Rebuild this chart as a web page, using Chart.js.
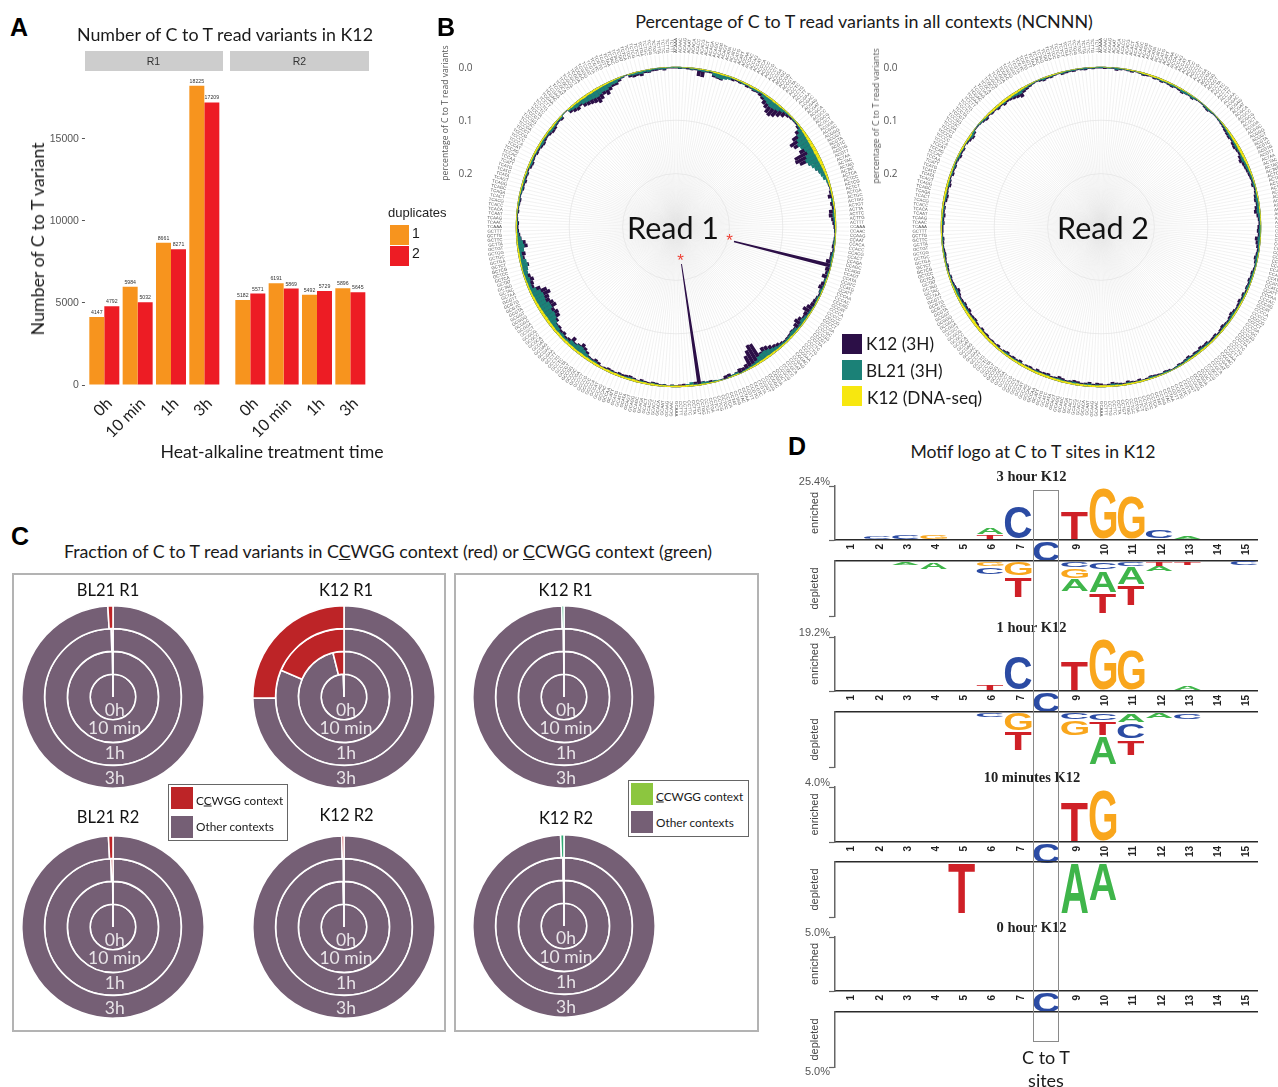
<!DOCTYPE html>
<html lang="en">

<head>
    <meta charset="UTF-8">
    <title>C to T read variants</title>
    <script src="https://cdn.jsdelivr.net/npm/chart.js"></script>
    <style>
        html, body { margin: 0; padding: 0; background: #fff; overflow: hidden; }
        #page { position: relative; width: 1278px; height: 1087px; overflow: hidden; font-family: Lato, sans-serif; color: #1a1a1a; }
        canvas { position: absolute; }
        .t { position: absolute; transform: translate(-50%, -50%); white-space: nowrap; z-index: 5; }
        .l { position: absolute; transform: translateY(-50%); white-space: nowrap; z-index: 5; }
        .panel { font: bold 25px "Liberation Sans", sans-serif; color: #000; }
        .box { position: absolute; box-sizing: border-box; z-index: 5; }
        .v { position: absolute; transform: translate(-50%, -50%) rotate(-90deg); white-space: nowrap; z-index: 5; }
        .serif { font: bold 14.5px "Liberation Serif", serif; color: #222; }
    </style>
</head>

<body>
    <div id="page">
        <div class="t panel" style="left:19px;top:27px">A</div>
        <div class="t panel" style="left:446px;top:27px">B</div>
        <div class="t panel" style="left:20px;top:536px">C</div>
        <div class="t panel" style="left:797px;top:446px">D</div>

        <!-- A -->
        <div class="t" style="left:225px;top:34px;font-size:17.85px">Number of C to T read variants in K12</div>
        <div class="box" style="left:85px;top:50.5px;width:138px;height:20.5px;background:#cdcdcd"></div>
        <div class="box" style="left:230px;top:50.5px;width:139px;height:20.5px;background:#cdcdcd"></div>
        <div class="t" style="left:153.5px;top:60.5px;font:10.5px 'Liberation Sans';color:#333">R1</div>
        <div class="t" style="left:299.5px;top:60.5px;font:10.5px 'Liberation Sans';color:#333">R2</div>
        <div class="v" style="left:37px;top:239px;font-size:17.8px">Number of C to T variant</div>
        <div class="t" style="left:272px;top:451px;font-size:17.7px">Heat-alkaline treatment time</div>
        <div class="l" style="left:388px;top:212px;font:13px 'Liberation Sans';color:#222">duplicates</div>
        <div class="box" style="left:389.5px;top:225px;width:19.5px;height:19.5px;background:#f7941e"></div>
        <div class="box" style="left:389.5px;top:246px;width:19.5px;height:19.5px;background:#ed1c24"></div>
        <div class="l" style="left:412px;top:233px;font:14px 'Liberation Sans'">1</div>
        <div class="l" style="left:412px;top:253px;font:14px 'Liberation Sans'">2</div>

        <!-- B -->
        <div class="t" style="left:864px;top:21px;font-size:17.9px">Percentage of C to T read variants in all contexts (NCNNN)</div>
        <div class="v" style="left:445px;top:113px;font:8.6px 'Open Sans';color:#555">percentage of C to T read variants</div>
        <div class="v" style="left:875.5px;top:116px;font:8.6px 'Open Sans';color:#555">percentage of C to T read variants</div>
        <div class="t" style="left:673px;top:227px;font-size:30.5px;color:#111">Read 1</div>
        <div class="t" style="left:1103px;top:227px;font-size:30.5px;color:#111">Read 2</div>
        <div class="t" style="left:729.5px;top:241px;font:17px 'Liberation Sans';color:#ee4035">*</div>
        <div class="t" style="left:680.5px;top:261px;font:17px 'Liberation Sans';color:#ee4035">*</div>
        <div class="box" style="left:842px;top:333.5px;width:20px;height:20px;background:#2c0f47"></div>
        <div class="box" style="left:842px;top:359.5px;width:20px;height:20px;background:#1b8177"></div>
        <div class="box" style="left:842px;top:385.5px;width:20px;height:20px;background:#f7e70f"></div>
        <div class="l" style="left:866px;top:343px;font-size:17.2px">K12 (3H)</div>
        <div class="l" style="left:866px;top:369.5px;font-size:17.2px">BL21 (3H)</div>
        <div class="l" style="left:867px;top:396.5px;font-size:17.2px">K12 (DNA-seq)</div>

        <!-- C -->
        <div class="t" style="left:388px;top:551px;font-size:17.8px">Fraction of C to T read variants in C<u>C</u>WGG context (red) or <u>C</u>CWGG context (green)</div>
        <div class="box" style="left:12px;top:572.5px;width:433.5px;height:459.5px;border:2px solid #b3b3b3"></div>
        <div class="box" style="left:453.5px;top:572.5px;width:305px;height:459.5px;border:2px solid #b3b3b3"></div>
        <div class="box" style="left:167.5px;top:784px;width:120.5px;height:57px;border:1.5px solid #666;background:#fff;z-index:6"></div>
        <div class="box" style="left:170.5px;top:787px;width:22px;height:22px;background:#bd2427;z-index:6"></div>
        <div class="box" style="left:170.5px;top:816px;width:22px;height:22px;background:#755f75;z-index:6"></div>
        <div class="l" style="left:196px;top:800px;font-size:11.8px;z-index:7">C<u>C</u>WGG context</div>
        <div class="l" style="left:196px;top:826px;font-size:11.8px;z-index:7">Other contexts</div>
        <div class="box" style="left:627.5px;top:779.5px;width:121px;height:57px;border:1.5px solid #666;background:#fff;z-index:6"></div>
        <div class="box" style="left:631px;top:782.5px;width:22px;height:22px;background:#8cc63f;z-index:6"></div>
        <div class="box" style="left:631px;top:811px;width:22px;height:22px;background:#755f75;z-index:6"></div>
        <div class="l" style="left:656px;top:796px;font-size:11.8px;z-index:7"><u>C</u>CWGG context</div>
        <div class="l" style="left:656px;top:822px;font-size:11.8px;z-index:7">Other contexts</div>

        <!-- D -->
        <div class="t" style="left:1033px;top:451px;font-size:17.6px">Motif logo at C to T sites in K12</div>
        <div class="t serif" style="left:1031.5px;top:476px">3 hour K12</div>
        <div class="t serif" style="left:1031.5px;top:627px">1 hour K12</div>
        <div class="t serif" style="left:1032px;top:777px">10 minutes K12</div>
        <div class="t serif" style="left:1031.5px;top:927px">0 hour K12</div>
        <div class="box" style="left:1033px;top:490px;width:25.5px;height:552px;border:1px solid #8a8a8a"></div>
        <div class="t" style="left:1046px;top:1057px;font-size:18px">C to T</div>
        <div class="t" style="left:1046px;top:1080px;font-size:18px">sites</div>
    </div>

    <script>
        // A - variant counts
        const treatmentTimes = ['0h', '10 min', '1h', '3h'];
        const r1Dup1 = [4147, 5984, 8661, 18225];
        const r1Dup2 = [4792, 5032, 8271, 17209];
        const r2Dup1 = [5182, 6191, 5492, 5896];
        const r2Dup2 = [5571, 5869, 5729, 5645];
        const countTicks = [0, 5000, 10000, 15000];

        // B - one value per NCNNN context, clockwise from the top
        // K12 and BL21 in thousandths, DNA-seq in half thousandths
        const bases = ['A', 'C', 'G', 'T'];
        const contexts = bases.flatMap(a => bases.flatMap(b => bases.flatMap(c => bases.map(d => a + 'C' + b + c + d))));
        const radialTicks = [0, 0.1, 0.2];

        const read1K12 = [
            3,4,3,4,5,4,14,15,5,5,11,12,13,8,6,7,5,6,5,7,6,8,7,9,12,18,22,28,30,26,20,14,
            8,6,5,5,8,16,28,38,34,22,30,44,46,40,26,16,18,14,8,6,5,5,4,6,10,5,8,6,12,13,9,7,
            5,4,3,4,5,6,4,7,7,12,188,10,8,12,6,9,11,7,5,7,9,10,14,18,12,10,15,18,14,10,11,9,
            8,7,9,12,14,18,22,24,18,40,42,34,26,12,9,10,6,4,8,7,3,1,4,6,5,7,230,8,5,4,6,5,
            4,5,3,5,4,6,7,5,6,8,5,7,9,8,7,8,6,7,8,6,5,9,11,8,9,14,18,22,16,13,20,12,
            10,14,12,15,14,20,28,30,26,34,32,28,30,36,32,22,12,14,17,13,10,12,16,8,11,14,12,20,17,10,8,6,
            5,6,4,3,5,4,5,6,4,5,7,6,8,6,7,5,8,9,7,6,8,7,9,10,8,7,9,11,10,7,6,8,
            2,2,10,14,16,12,18,20,22,24,28,24,18,22,16,12,12,8,4,2,7,9,8,10,6,7,5,5,4,6,3,3
        ];
        const read1BL21 = [
            2,3,3,2,4,3,4,5,4,3,8,10,11,9,7,4,3,4,5,4,5,6,5,4,8,10,13,15,14,12,8,5,
            4,3,4,3,5,10,16,22,26,24,20,18,24,28,26,22,18,14,12,10,6,4,3,4,3,5,4,3,5,6,5,4,
            3,3,2,3,4,3,2,4,5,4,3,2,4,3,5,3,4,6,3,5,4,3,4,5,5,7,9,6,5,8,9,7,
            6,5,6,7,9,11,14,16,15,13,8,6,5,4,3,2,5,4,3,1,2,3,4,3,5,6,3,4,8,5,3,2,
            3,4,2,4,3,4,5,3,4,5,3,5,6,5,4,5,4,5,5,4,3,5,7,6,7,10,13,15,14,11,12,8,
            7,9,8,11,12,16,20,22,20,24,24,20,21,22,20,14,8,8,10,8,10,12,14,13,8,7,12,14,12,9,6,4,
            3,4,3,2,3,3,4,4,3,4,5,4,5,4,5,3,5,6,5,4,5,5,6,7,5,5,6,7,6,5,4,5,
            2,1,6,8,10,9,12,13,14,15,16,14,12,13,10,8,8,5,3,1,4,5,5,6,4,5,3,3,3,4,2,2
        ];
        const read1Dna = [
            2,1,2,2,3,3,4,3,4,3,5,5,6,5,4,5,5,4,5,5,6,5,5,4,5,6,6,7,6,6,5,4,
            4,4,3,4,5,6,8,9,10,11,12,12,13,12,12,11,10,9,8,7,6,6,5,5,5,4,5,4,5,5,4,4,
            4,3,3,3,3,3,2,2,3,3,2,3,3,3,4,3,3,4,3,4,4,3,4,4,5,4,5,4,5,5,5,6,
            5,5,6,6,6,7,7,8,7,7,6,5,5,4,3,2,4,4,3,1,2,3,3,4,4,5,5,5,6,7,6,6,
            6,5,5,6,5,6,7,6,7,6,7,8,7,6,7,7,8,7,8,7,7,8,8,8,9,8,9,8,8,9,8,9,
            8,8,9,8,9,10,10,11,10,10,9,9,8,8,7,7,6,6,5,5,4,4,5,5,6,6,6,5,5,5,5,4,
            4,4,3,3,3,4,3,4,3,4,4,5,4,4,5,4,5,5,5,5,6,6,6,5,5,6,5,6,6,5,4,4,
            1,1,5,6,6,7,7,8,7,8,7,7,6,6,5,5,4,4,2,1,3,3,2,3,2,2,2,1,2,2,1,1
        ];
        const read2K12 = [
            3,4,3,3,6,4,3,4,5,3,4,6,5,4,6,5,7,5,6,7,5,6,8,6,5,7,4,3,3,5,6,4,
            3,3,4,5,6,8,9,10,8,11,12,10,9,12,14,11,10,9,8,7,6,8,5,6,8,9,7,10,12,8,6,5,
            7,8,6,11,9,7,5,6,8,6,4,5,7,6,8,6,7,5,8,6,9,7,6,8,10,8,6,7,9,7,5,8,
            7,6,9,8,10,7,8,6,9,7,5,6,4,3,5,6,4,5,6,7,5,4,7,5,6,8,5,6,7,9,6,5,
            7,8,6,9,7,6,8,9,7,6,8,10,7,6,9,8,7,9,6,8,7,5,9,7,8,6,9,7,5,8,6,7,
            6,8,7,9,6,8,10,9,8,11,9,10,8,7,9,11,7,6,5,6,4,5,6,4,5,6,5,4,5,6,4,5,
            5,7,6,8,6,7,5,8,9,7,6,9,7,5,8,6,7,5,6,8,6,7,4,6,8,10,7,3,3,4,6,8,
            5,7,6,9,7,10,8,9,11,13,16,10,8,6,4,3,5,7,5,6,4,3,6,5,4,5,3,4,5,3,4,3
        ];
        const read2BL21 = [
            2,2,3,2,4,3,2,3,3,2,3,4,3,3,4,4,5,4,4,5,4,4,6,5,4,5,3,2,2,3,4,3,
            2,2,3,3,4,5,6,7,6,7,8,7,6,8,9,7,7,6,5,5,4,5,3,4,5,6,5,6,7,5,4,3,
            4,5,4,6,5,4,3,4,5,4,3,3,4,4,5,4,5,3,5,4,5,4,4,5,6,5,4,5,5,4,3,5,
            4,4,6,5,6,5,5,4,6,5,3,4,3,2,3,4,3,3,4,5,3,3,4,3,4,5,3,4,5,6,4,3,
            4,5,4,6,5,4,5,6,5,4,5,6,5,4,6,5,5,6,4,5,5,3,6,5,5,4,6,5,3,5,4,5,
            4,5,5,6,4,5,7,6,5,7,6,7,5,5,6,7,5,4,3,4,3,3,4,3,3,4,3,3,3,4,3,3,
            3,5,4,5,4,5,3,5,6,5,4,6,5,3,5,4,5,3,4,5,4,5,3,4,5,7,5,2,2,3,4,5,
            3,5,4,6,5,7,5,6,7,8,9,6,5,4,3,2,3,5,3,4,3,2,4,3,3,3,2,3,3,2,3,2
        ];
        const read2Dna = [
            1,2,2,1,2,2,3,3,4,3,4,5,5,6,6,5,6,5,5,4,4,5,4,3,3,3,2,2,1,2,2,2,
            1,2,2,3,4,5,6,7,8,8,8,9,9,9,8,7,6,6,5,4,4,3,3,4,4,3,3,4,4,3,3,3,
            2,2,2,3,3,3,2,3,3,2,2,3,3,3,3,3,3,4,4,4,5,5,5,5,5,4,4,5,5,5,4,5,
            5,5,5,6,6,5,5,5,5,4,3,3,2,2,2,3,3,4,4,4,5,5,5,6,6,6,6,5,6,6,7,7,
            7,6,7,7,6,7,7,6,7,7,6,7,7,7,8,8,8,7,7,8,8,8,7,7,6,7,6,6,7,7,8,8,
            8,8,9,9,9,9,10,9,9,8,8,7,7,6,5,5,5,4,4,4,4,3,3,3,3,3,3,3,3,3,4,4,
            4,4,4,5,5,5,5,6,6,7,7,6,6,5,5,5,4,3,3,4,5,6,5,5,6,6,3,2,1,2,3,5,
            6,7,8,8,9,9,9,9,8,8,7,6,5,4,3,2,2,3,4,4,4,3,3,2,2,2,2,2,1,2,2,1
        ];

        // C - percent in the CCWGG context, outer ring first
        const ringNames = ['3h', '1h', '10 min', '0h'];
        const bl21R1Red = [0.9, 0.4, 0.2, 0.1];
        const k12R1Red = [25.2, 18.6, 3.9, 0.5];
        const bl21R2Red = [0.8, 0.5, 0.1, 0.05];
        const k12R2Red = [0.4, 0.15, 0.3, 0.1];
        const k12R1Green = [0.4, 0.15, 0.1, 0.05];
        const k12R2Green = [0.6, 0.25, 0.15, 0.05];

        // D - [position, letter, percent], listed from the baseline outwards
        const logoPositions = ['1', '2', '3', '4', '5', '6', '7', '8', '9', '10', '11', '12', '13', '14', '15'];
        const h3Up = [[2,'C',1.9],[3,'C',2.8],[4,'G',2.5],[6,'T',2.5],[6,'A',3.4],[7,'C',15.7],[9,'T',14.1],[10,'G',24.6],[11,'G',20.7],[12,'C',4.7],[13,'A',1.9]];
        const h3Down = [[3,'A',1.9],[4,'A',4.2],[6,'G',2.5],[6,'C',3.7],[7,'G',7.0],[7,'T',9.9],[9,'C',3.1],[9,'G',5.1],[9,'A',6.0],[10,'C',3.9],[10,'A',10.7],[10,'T',9.8],[11,'C',2.6],[11,'A',8.5],[11,'T',9.8],[12,'T',2.3],[12,'A',2.8],[13,'T',2.0],[15,'C',2.3]];
        const h1Up = [[6,'T',2.6],[7,'C',12.4],[9,'T',10.9],[10,'G',18.6],[11,'G',14.8],[13,'A',2.0]];
        const h1Down = [[6,'C',1.8],[7,'G',6.7],[7,'T',6.8],[9,'C',2.8],[9,'G',5.8],[10,'C',3.1],[10,'T',5.3],[10,'A',10.1],[11,'A',3.7],[11,'C',5.9],[11,'T',5.8],[12,'A',2.4],[13,'C',2.7]];
        const m10Up = [[9,'T',3.0],[10,'G',3.8]];
        const m10Down = [[5,'T',3.8],[9,'A',3.8],[10,'A',2.8]];
        const h0Up = [];
        const h0Down = [];

        const page = document.getElementById('page');
        const sans = 'Liberation Sans';

        function addCanvas(left, top, width, height) {
            const c = document.createElement('canvas');
            c.width = Math.ceil(width);
            c.height = Math.ceil(height);
            c.style.left = left + 'px';
            c.style.top = top + 'px';
            page.appendChild(c);
            return c.getContext('2d');
        }

        function addLabel(text, x, y, size, color) {
            const d = document.createElement('div');
            d.className = 't';
            d.textContent = text;
            d.style.cssText = `left:${x}px;top:${y}px;font-size:${size}px;color:${color}`;
            page.appendChild(d);
        }

        // ---- A ----
        const barValueLabels = {
            id: 'barValueLabels',
            afterDatasetsDraw(chart) {
                const ctx = chart.ctx;
                ctx.save();
                ctx.font = `5.2px "${sans}"`;
                ctx.fillStyle = '#333';
                ctx.textAlign = 'center';
                chart.data.datasets.forEach((ds, i) => {
                    chart.getDatasetMeta(i).data.forEach((bar, j) => {
                        ctx.fillText(ds.data[j], bar.x, bar.y - 3);
                    });
                });
                ctx.restore();
            }
        };

        function countChart(areaLeft, dup1, dup2, showY) {
            const ctx = addCanvas(areaLeft - 47.65, 60, 180.05, 385);
            return new Chart(ctx, {
                type: 'bar',
                data: {
                    labels: treatmentTimes,
                    datasets: [
                        { label: '1', data: dup1, backgroundColor: '#f7941e', categoryPercentage: 0.9, barPercentage: 1 },
                        { label: '2', data: dup2, backgroundColor: '#ed1c24', categoryPercentage: 0.9, barPercentage: 1 }
                    ]
                },
                options: {
                    responsive: false,
                    animation: false,
                    layout: { padding: { top: 12, left: 0, right: 0, bottom: 0 } },
                    plugins: { legend: { display: false }, tooltip: { enabled: false } },
                    scales: {
                        x: {
                            grid: { display: false },
                            border: { display: false },
                            afterFit(s) { s.height = 60; },
                            ticks: { minRotation: 45, maxRotation: 45, autoSkip: false, padding: 1, labelOffset: 5, color: '#222', font: { family: 'Lato', size: 16 } }
                        },
                        y: {
                            min: 0,
                            max: 19060,
                            border: { display: false },
                            grid: { drawOnChartArea: false, drawTicks: showY, tickLength: 5.7, tickBorderDash: [3, 9], tickColor: '#555' },
                            afterBuildTicks(s) { s.ticks = countTicks.map(value => ({ value })); },
                            afterFit(s) { s.width = 47.65; },
                            ticks: { display: showY, padding: 3, color: '#555', font: { family: sans, size: 10.5 }, callback: v => String(v) }
                        }
                    }
                },
                plugins: [barValueLabels]
            });
        }
        countChart(87.65, r1Dup1, r1Dup2, true);
        countChart(233.35, r2Dup1, r2Dup2, false);

        // ---- B ----
        const radialBars = {
            id: 'radialBars',
            afterDatasetsUpdate(chart) {
                const r = chart.scales.r;
                const step = 2 * Math.PI / contexts.length;
                chart.data.datasets.forEach((ds, i) => {
                    chart.getDatasetMeta(i).data.forEach((arc, j) => {
                        // bars hang from the 0.0 ring towards the centre, centred on their label
                        arc.innerRadius = r.getDistanceFromCenterForValue(ds.data[j]);
                        arc.outerRadius = r.getDistanceFromCenterForValue(0);
                        arc.startAngle = r.getIndexAngle(j) - Math.PI / 2 - step / 2;
                        arc.endAngle = arc.startAngle + step;
                    });
                });
            },
            afterDraw(chart) {
                const r = chart.scales.r;
                const ctx = chart.ctx;
                ctx.save();
                ctx.font = `4.4px "${sans}"`;
                ctx.fillStyle = '#5c5c5c';
                ctx.textBaseline = 'middle';
                contexts.forEach((name, i) => {
                    const p = r.getPointPosition(i, 174);
                    const left = Math.cos(p.angle) < 0;
                    ctx.save();
                    ctx.translate(p.x, p.y);
                    ctx.rotate(left ? p.angle + Math.PI : p.angle);
                    ctx.textAlign = left ? 'right' : 'left';
                    ctx.fillText(name, 0, 0);
                    ctx.restore();
                });
                ctx.font = '10px "Open Sans"';
                ctx.fillStyle = '#555';
                ctx.textAlign = 'center';
                radialTicks.forEach(v => {
                    ctx.fillText(v.toFixed(1), r.xCenter - 210.5, r.yCenter - r.getDistanceFromCenterForValue(v) + 1);
                });
                ctx.restore();
            }
        };

        function radialChart(cx, cy, k12, bl21, dna) {
            const ctx = addCanvas(cx - 250, cy - 190, 440, 380);
            return new Chart(ctx, {
                type: 'polarArea',
                data: {
                    labels: contexts,
                    datasets: [
                        { label: 'K12 (DNA-seq)', data: dna.map(v => v / 2000), backgroundColor: '#f7e70f' },
                        { label: 'BL21 (3H)', data: bl21.map(v => v / 1000), backgroundColor: '#1b8177' },
                        { label: 'K12 (3H)', data: k12.map(v => v / 1000), backgroundColor: '#2c0f47' }
                    ]
                },
                options: {
                    responsive: false,
                    animation: false,
                    layout: { padding: { left: 77, right: 17, top: 17, bottom: 17 } },
                    elements: { arc: { borderWidth: 0 } },
                    plugins: { legend: { display: false }, tooltip: { enabled: false } },
                    scales: {
                        r: {
                            reverse: true,
                            min: -0.024,
                            max: 0.3,
                            afterBuildTicks(s) { s.ticks = radialTicks.map(value => ({ value })); },
                            ticks: { display: false },
                            pointLabels: { display: false },
                            angleLines: { display: true, color: '#e4e4e4', lineWidth: 0.5 },
                            grid: { circular: true, color: '#e6e6e6', lineWidth: 0.8 }
                        }
                    }
                },
                plugins: [radialBars]
            });
        }
        radialChart(675.5, 227, read1K12, read1BL21, read1Dna);
        radialChart(1100.5, 227, read2K12, read2BL21, read2Dna);

        // ---- C ----
        function ringChart(cx, cy, title, titleX, titleY, fractions, color) {
            const ctx = addCanvas(cx - 92, cy - 92, 184, 184);
            new Chart(ctx, {
                type: 'doughnut',
                data: {
                    labels: ['Other contexts', 'CCWGG context'],
                    datasets: ringNames.map((name, i) => ({
                        label: name,
                        data: [100 - fractions[i], fractions[i]],
                        backgroundColor: ['#755f75', color],
                        borderColor: '#fff',
                        borderWidth: 1.6
                    }))
                },
                options: {
                    responsive: false,
                    animation: false,
                    cutout: 0,
                    plugins: { legend: { display: false }, tooltip: { enabled: false } }
                }
            });
            addLabel(title, titleX, titleY, 16.5, '#111');
            const offsets = [80, 55, 30, 11.5];
            ringNames.forEach((name, i) => addLabel(name, cx + 2, cy + offsets[i], 17.5, '#e8e4e8'));
        }
        ringChart(112.7, 697, 'BL21 R1', 108, 590, bl21R1Red, '#bd2427');
        ringChart(344, 697, 'K12 R1', 346, 590, k12R1Red, '#bd2427');
        ringChart(112.7, 927, 'BL21 R2', 108, 817, bl21R2Red, '#bd2427');
        ringChart(344, 927, 'K12 R2', 346.5, 815, k12R2Red, '#bd2427');
        ringChart(564, 697, 'K12 R1', 565.5, 590, k12R1Green, '#2fa873');
        ringChart(564, 925.7, 'K12 R2', 566, 817.5, k12R2Green, '#2fa873');

        // ---- D ----
        const letterColors = { A: '#3fb54a', C: '#2b4ba3', G: '#f9a61c', T: '#cf2027' };

        function drawLetter(ctx, letter, x, y, w, h) {
            ctx.save();
            ctx.font = `bold 100px "${sans}"`;
            ctx.textAlign = 'left';
            ctx.textBaseline = 'alphabetic';
            const m = ctx.measureText(letter);
            const bw = m.actualBoundingBoxLeft + m.actualBoundingBoxRight;
            const bh = m.actualBoundingBoxAscent + m.actualBoundingBoxDescent;
            ctx.translate(x, y);
            ctx.scale(w / bw, h / bh);
            ctx.fillStyle = letterColors[letter];
            ctx.fillText(letter, m.actualBoundingBoxLeft, m.actualBoundingBoxAscent);
            ctx.restore();
        }

        const logoLetters = {
            id: 'logoLetters',
            afterDatasetsDraw(chart) {
                const ctx = chart.ctx;
                chart.data.datasets.forEach((ds, i) => {
                    const bar = chart.getDatasetMeta(i).data[ds.position - 1];
                    const top = Math.min(bar.y, bar.base);
                    const h = Math.abs(bar.y - bar.base);
                    const inset = Math.min(1, h * 0.1);
                    drawLetter(ctx, ds.letter, bar.x - bar.width / 2, top + inset, bar.width, h - 2 * inset);
                });
                // the converted C at position 8 sits between the two baselines
                if (chart.options.plugins.logoLetters.anchor) {
                    const x = chart.scales.x.getPixelForValue(7);
                    drawLetter(ctx, 'C', x - 13, chart.chartArea.bottom + 2, 26, 19);
                }
            }
        };

        function logoDatasets(list) {
            return list.map(([position, letter, pct]) => ({
                letter,
                position,
                data: logoPositions.map((p, i) => (i === position - 1 ? pct : null)),
                backgroundColor: 'rgba(0,0,0,0)',
                barPercentage: 0.95,
                categoryPercentage: 1
            }));
        }

        function logoChart(list, top, height, max, opts) {
            const pad = 10;
            const below = opts.down ? 10 : 21;
            const ctx = addCanvas(795, top - pad, 463, pad + height + below);
            return new Chart(ctx, {
                type: 'bar',
                data: { labels: logoPositions, datasets: logoDatasets(list) },
                options: {
                    responsive: false,
                    animation: false,
                    layout: { padding: { top: pad, bottom: opts.down ? below : 0, left: 0, right: 0 } },
                    plugins: { legend: { display: false }, tooltip: { enabled: false }, logoLetters: { anchor: !opts.down } },
                    scales: {
                        x: {
                            stacked: true,
                            position: opts.down ? 'top' : 'bottom',
                            grid: { display: false },
                            border: { color: '#2a2a2a', width: 1.5 },
                            afterFit(s) { s.height = opts.down ? 0 : 21; },
                            ticks: {
                                display: !opts.down,
                                autoSkip: false,
                                minRotation: 90,
                                maxRotation: 90,
                                padding: -4,
                                labelOffset: 2.5,
                                color: '#222',
                                font: { family: sans, size: 10, weight: 'bold' },
                                callback(v, i) { return logoPositions[i] === '8' ? '' : logoPositions[i]; }
                            }
                        },
                        y: {
                            stacked: true,
                            reverse: !!opts.down,
                            min: 0,
                            max,
                            border: { color: '#666', width: 1.5 },
                            grid: {
                                drawOnChartArea: false,
                                tickLength: 6,
                                tickWidth: 1.2,
                                tickColor: c => (opts.down && c.tick && c.tick.value === 0 ? 'rgba(0,0,0,0)' : '#666')
                            },
                            afterBuildTicks(s) { s.ticks = [{ value: 0 }, { value: max }]; },
                            afterFit(s) { s.width = 40; },
                            title: {
                                display: true,
                                text: opts.down ? 'depleted' : 'enriched',
                                color: '#444',
                                font: { family: sans, size: 11 },
                                padding: { top: 13, bottom: 0 }
                            },
                            ticks: {
                                padding: -1,
                                labelOffset: opts.down ? 5 : -4,
                                color: '#555',
                                font: { family: sans, size: 11 },
                                callback(v) { return v === max && opts.label ? opts.label : ''; }
                            }
                        }
                    }
                },
                plugins: [logoLetters]
            });
        }

        logoChart(h3Up, 486, 54, 25.4, { label: '25.4%' });
        logoChart(h3Down, 561, 54.7, 25.4, { down: true });
        logoChart(h1Up, 636.7, 54, 19.2, { label: '19.2%' });
        logoChart(h1Down, 711.7, 54.3, 19.2, { down: true });
        logoChart(m10Up, 786.7, 54.3, 4.0, { label: '4.0%' });
        logoChart(m10Down, 861.7, 54.3, 4.0, { down: true });
        logoChart(h0Up, 937, 54, 5.0, { label: '5.0%' });
        logoChart(h0Down, 1011.7, 55, 5.0, { down: true, label: '5.0%' });
    </script>
</body>

</html>
